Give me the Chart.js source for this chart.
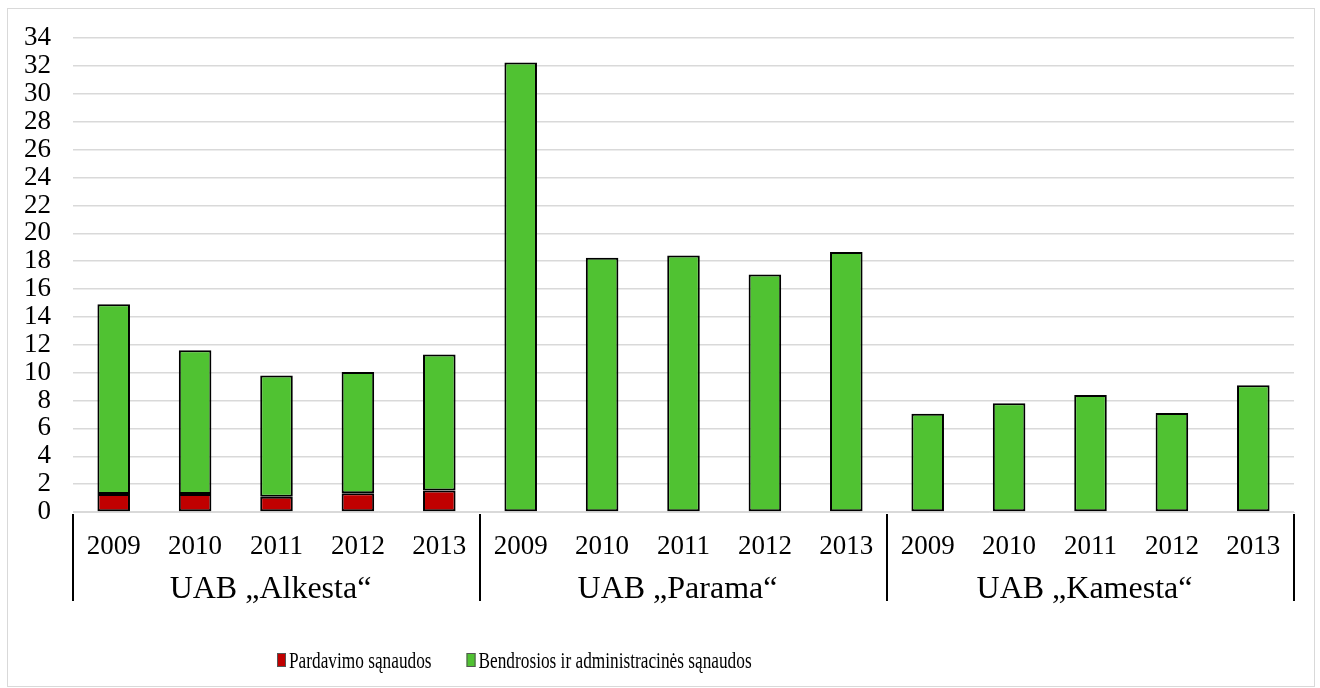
<!DOCTYPE html>
<html>
<head>
<meta charset="utf-8">
<script src="https://cdn.jsdelivr.net/npm/chart.js@4/dist/chart.umd.min.js"></script>
<style>
  html, body { margin: 0; padding: 0; background: #fff; }
  #wrap { position: relative; width: 1320px; height: 688px; }
</style>
</head>
<body>
<div id="wrap"><canvas id="chart" width="1320" height="688"></canvas></div>
<script>
const companies = ["UAB „Alkesta“", "UAB „Parama“", "UAB „Kamesta“"]
const years = ["2009", "2010", "2011", "2012", "2013"]
const yTicks = [0, 34, 2]

// Pardavimo sąnaudos (only Alkesta has them)
const salesCosts = [1.3, 1.3, 1.1, 1.35, 1.55, null, null, null, null, null, null, null, null, null, null]
// Bendrosios ir administracinės sąnaudos
const adminCosts = [13.6, 10.3, 8.7, 8.7, 9.75, 32.25, 18.25, 18.4, 17.05, 18.65, 7.05, 7.8, 8.4, 7.1, 9.1]

const labels = companies.flatMap(() => years)
const serif = "'Liberation Serif', 'Times New Roman', serif"

// light frame around the whole picture
const frame = {
  id: "frame",
  beforeDraw(chart) {
    const { ctx, width, height } = chart
    ctx.save()
    ctx.fillStyle = "#fff"
    ctx.fillRect(0, 0, width, height)
    ctx.strokeStyle = "#d9d9d9"
    ctx.lineWidth = 1
    ctx.strokeRect(7.5, 8.5, width - 13, height - 10)
    ctx.restore()
  }
}

// company names under the years + black separators between the groups
const groups = {
  id: "groups",
  afterDraw(chart) {
    const { ctx, chartArea } = chart
    const x = chart.scales.x
    const step = x.getPixelForValue(1) - x.getPixelForValue(0)
    ctx.save()
    ctx.strokeStyle = "#000"
    ctx.lineWidth = 2
    for (let g = 0; g <= companies.length; g++) {
      const px = x.getPixelForValue(g * years.length) - step / 2
      ctx.beginPath()
      ctx.moveTo(px, chartArea.bottom + 2)
      ctx.lineTo(px, chartArea.bottom + 89)
      ctx.stroke()
    }
    ctx.fillStyle = "#000"
    ctx.font = "32px " + serif
    ctx.textAlign = "center"
    ctx.textBaseline = "middle"
    companies.forEach((name, g) => {
      const mid = x.getPixelForValue(g * years.length + (years.length - 1) / 2)
      ctx.fillText(name, mid - 6, chartArea.bottom + 78)
    })
    ctx.restore()
  }
}

// legend drawn with narrow text like the original
const legend = {
  id: "narrowLegend",
  afterDraw(chart) {
    const { ctx } = chart
    const squeeze = 0.72
    let cx = 277
    const base = 668
    ctx.save()
    ctx.font = "24px " + serif
    ctx.textBaseline = "alphabetic"
    chart.data.datasets.forEach(ds => {
      ctx.fillStyle = ds.backgroundColor
      ctx.fillRect(cx, base - 15, 9, 14)
      ctx.strokeStyle = "#555"
      ctx.lineWidth = 1
      ctx.strokeRect(cx + 0.5, base - 14.5, 8, 13)
      const tx = cx + 12
      ctx.save()
      ctx.translate(tx, base)
      ctx.scale(squeeze, 1)
      ctx.fillStyle = "#000"
      ctx.fillText(ds.label, 0, 0)
      ctx.restore()
      cx = tx + ctx.measureText(ds.label).width * squeeze + 35
    })
    ctx.restore()
  }
}

new Chart(document.getElementById("chart"), {
  type: "bar",
  data: {
    labels,
    datasets: [
      {
        label: "Pardavimo sąnaudos",
        data: salesCosts,
        backgroundColor: "#c00000",
        borderColor: "#000",
        borderWidth: 2,
        borderSkipped: false
      },
      {
        label: "Bendrosios ir administracinės sąnaudos",
        data: adminCosts,
        backgroundColor: "#50c232",
        borderColor: "#000",
        borderWidth: 2,
        borderSkipped: false
      }
    ]
  },
  options: {
    responsive: false,
    animation: false,
    events: [],
    categoryPercentage: 1,
    barPercentage: 0.4,
    layout: { padding: { left: 8, right: 26, top: 29, bottom: 0 } },
    plugins: {
      legend: { display: false },
      tooltip: { enabled: false }
    },
    scales: {
      x: {
        stacked: true,
        grid: { display: true, drawOnChartArea: false, drawTicks: false },
        border: { display: true, color: "#d9d9d9", width: 1 },
        ticks: {
          color: "#000",
          font: { family: serif, size: 27 },
          padding: 19,
          maxRotation: 0,
          autoSkip: false
        },
        afterFit: (scale) => { scale.height = 176 }
      },
      y: {
        stacked: true,
        min: yTicks[0],
        max: yTicks[1],
        grid: { color: "#d9d9d9", lineWidth: 1.5, drawTicks: false },
        border: { display: false },
        ticks: {
          stepSize: yTicks[2],
          autoSkip: false,
          color: "#000",
          font: { family: serif, size: 27 },
          padding: 22
        },
        afterFit: (scale) => { scale.width = 65 }
      }
    }
  },
  plugins: [frame, groups, legend]
})
</script>
</body>
</html>
